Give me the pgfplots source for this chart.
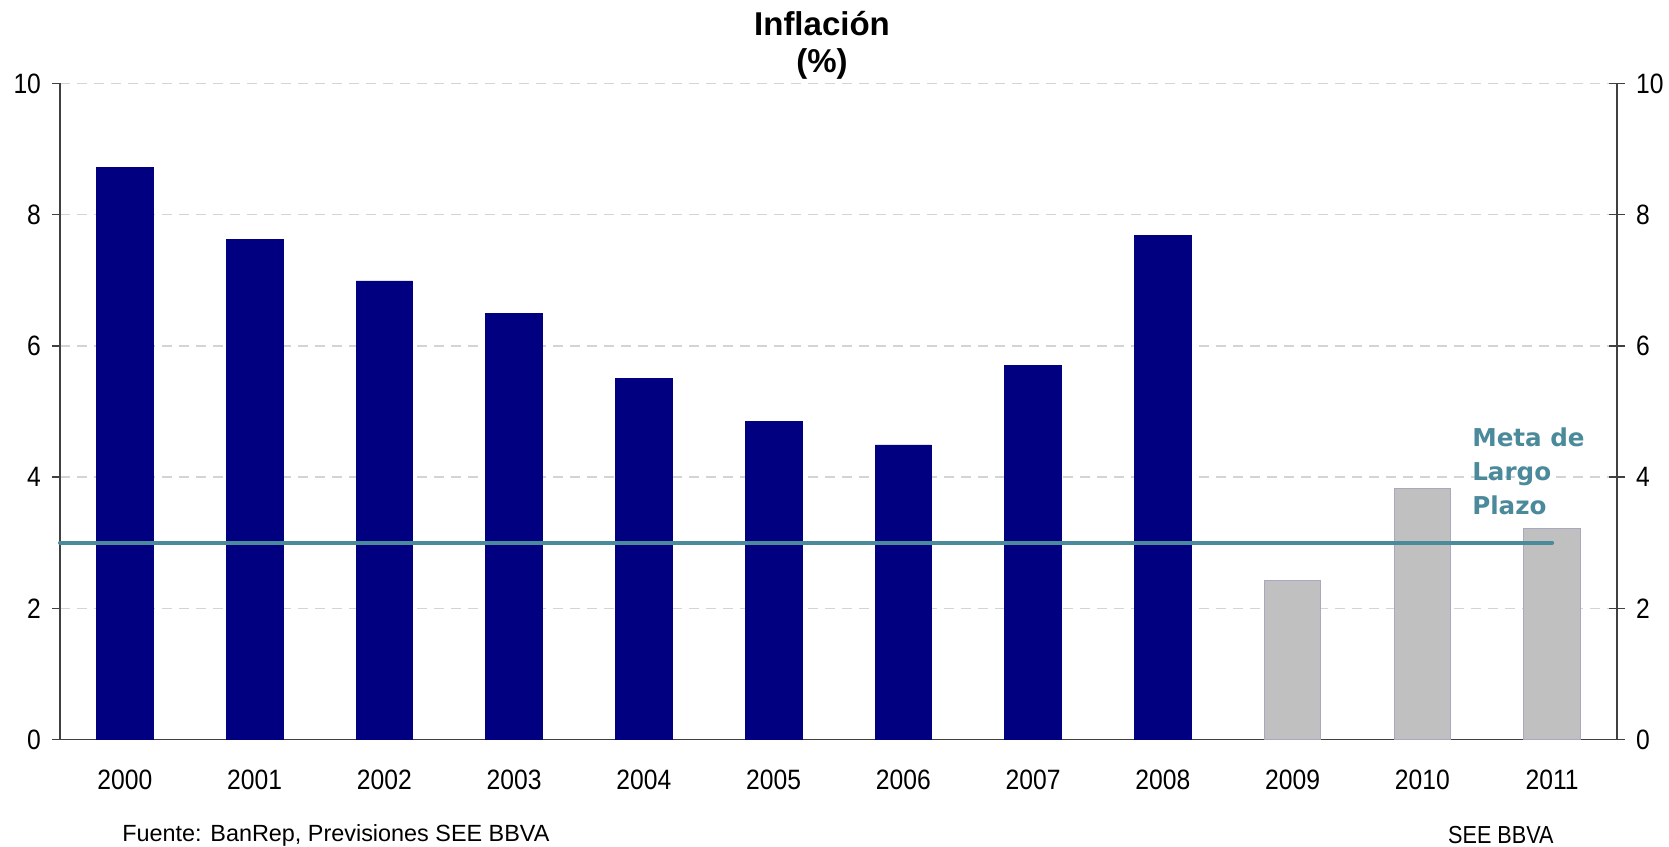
\documentclass[border=0pt]{standalone}
\usepackage{pgfplots}
\pgfplotsset{compat=1.18}
\usepackage{fontspec}
\setmainfont{Liberation Sans}
\newfontfamily\tickfont[FakeStretch=0.88]{Liberation Sans}
\newfontfamily\notefont{DejaVu Sans}

\definecolor{barblue}{HTML}{000080}
\definecolor{bargray}{HTML}{C0C0C0}
\definecolor{bargrayedge}{HTML}{A8A8C0}
\definecolor{metateal}{HTML}{4A8A9B}
\definecolor{gridgray}{HTML}{D4D4D4}

% Observed inflation (2000-2008)
\pgfplotstableread{
x  y
0  8.72
1  7.62
2  6.99
3  6.50
4  5.50
5  4.85
6  4.49
7  5.70
8  7.69
}\observed

% Forecasts (2009-2011)
\pgfplotstableread{
x  y
9  2.42
10 3.82
11 3.21
}\forecast

% Long-term target
\pgfplotstableread{
x    y
-0.5 3
11   3
}\target

\pgfplotsset{
  common/.style={
    scale only axis,
    width=778.5pt, height=328pt,
    at={(0pt,0pt)}, anchor=south west,
    xmin=-0.5, xmax=11.5, ymin=0, ymax=10,
    ytick={0,2,...,10},
    /pgf/number format/assume math mode=true,
    ticklabel style={font=\tickfont\fontsize{14}{16}\selectfont, text=black},
    axis line style={-, black!75, line width=0.7pt},
    major tick style={black!75, line width=0.7pt},
    minor tick style={black!75, line width=0.7pt},
  }
}

\begin{document}
\begin{tikzpicture}
\begin{axis}[
  common,
  axis x line*=bottom, axis y line*=left,
  xtick={0,...,11},
  xticklabels={2000,2001,2002,2003,2004,2005,2006,2007,2008,2009,2010,2011},
  minor xtick={-0.5,0.5,...,11.5},
  xtick style={draw=none},
  minor tick length=5pt,
  tick align=outside,
  major tick length=4pt,
  ytick style={black!75, line width=0.7pt},
  ymajorgrids,
  grid style={gridgray, line width=0.75pt, dash pattern=on 5pt off 3.5pt},
  xticklabel style={yshift=-7.6pt},
  yticklabel style={xshift=-2pt},
  clip=false,
]
\addplot[ybar, bar width=0.437, bar shift=0pt, fill=barblue, draw=barblue, line width=0.3pt]
  table[x=x, y=y] {\observed};
\addplot[ybar, bar width=0.437, bar shift=0pt, fill=bargray, draw=bargrayedge, line width=0.5pt]
  table[x=x, y=y] {\forecast};
\addplot[metateal, line width=2pt, line cap=round, mark=none]
  table[x=x, y=y] {\target};
\node[anchor=west, align=left, text=metateal,
      font=\notefont\bfseries\fontsize{12.3}{17}\selectfont]
  at (axis cs:10.33,4.09) {Meta de\\Largo\\Plazo};
\end{axis}

\begin{axis}[
  common,
  axis x line=none, axis y line*=right,
  tick align=center,
  major tick length=8pt,
  yticklabel style={xshift=2pt},
]
\end{axis}

\node[align=center, font=\bfseries\fontsize{16.5}{18.25}\selectfont]
  at (381pt,347pt) {Inflación\\(\%)};
\node[anchor=west, font=\fontsize{11.7}{14}\selectfont, inner sep=0pt]
  at (31pt,-47.75pt) {Fuente: BanRep, Previsiones SEE BBVA};
\node[anchor=east, font=\tickfont\fontsize{12.3}{14}\selectfont, inner sep=0pt]
  at (747pt,-47.75pt) {SEE BBVA};

\pgfresetboundingbox
\path (-30pt,-53.25pt) rectangle (804.5pt,369.75pt);
\end{tikzpicture}
\end{document}
